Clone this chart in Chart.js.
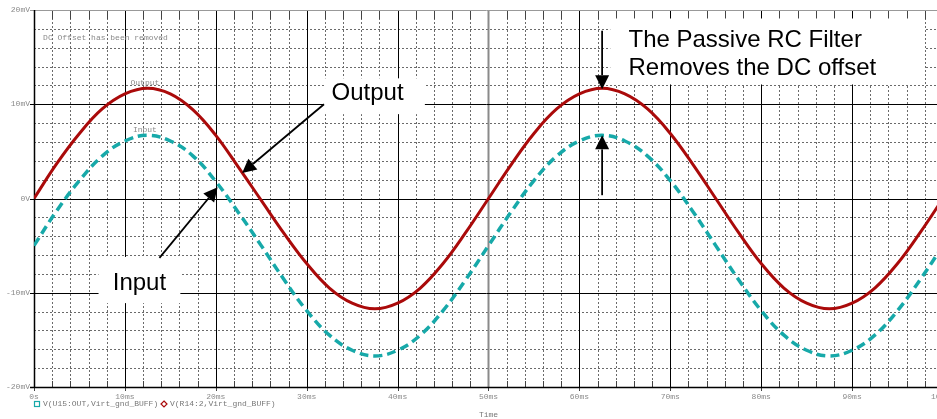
<!DOCTYPE html>
<html>
<head>
<meta charset="utf-8">
<script src="https://cdn.jsdelivr.net/npm/chart.js@4/dist/chart.umd.min.js"></script>
<style>
  html, body { margin: 0; padding: 0; background: #fff; overflow: hidden; }
  #wrap { width: 960px; height: 419px; }
</style>
</head>
<body>
<div id="wrap"><canvas id="simChart" width="960" height="419"></canvas></div>
<script>
// time axis (ms) and the two traces (mV)
var timeMs = [0, 2.5, 5, 7.5, 10, 12.5, 15, 17.5, 20, 22.5, 25, 27.5, 30, 32.5, 35, 37.5, 40, 42.5, 45, 47.5,
              50, 52.5, 55, 57.5, 60, 62.5, 65, 67.5, 70, 72.5, 75, 77.5, 80, 82.5, 85, 87.5, 90, 92.5, 95, 97.5, 100];
var outputMv = [0, 3.7, 6.9, 9.5, 11.1, 11.7, 11.1, 9.4, 6.7, 3.3, -0.2, -3.7, -6.9, -9.5, -11.1, -11.7, -11.1, -9.5, -6.9, -3.6,
                0, 3.6, 6.9, 9.5, 11.1, 11.7, 11.1, 9.5, 6.9, 3.6, 0, -3.6, -6.9, -9.5, -11.1, -11.7, -11.1, -9.5, -6.9, -3.6, 0];
var inputMv = [-5, -1.3, 1.9, 4.5, 6.1, 6.7, 6.1, 4.5, 1.8, -1.5, -5, -8.6, -11.9, -14.5, -16.1, -16.7, -16.1, -14.5, -11.9, -8.6,
               -5, -1.4, 1.9, 4.5, 6.1, 6.7, 6.1, 4.5, 1.9, -1.4, -5, -8.6, -11.9, -14.5, -16.1, -16.7, -16.1, -14.5, -11.9, -8.6, -5];
var xTicks = [0, 10, 20, 30, 40, 50, 60, 70, 80, 90, 100];
var yTicks = [-20, -10, 0, 10, 20];

var seriesNames = ['V(U15:OUT,Virt_gnd_BUFF)', 'V(R14:2,Virt_gnd_BUFF)'];
var inColor = '#17a9a9';
var outColor = '#aa0a0a';
var mono = "'Liberation Mono', 'DejaVu Sans Mono', monospace";
var sans = "'Liberation Sans', Arial, sans-serif";

function toPoints(ys) {
  return timeMs.map(function (t, i) { return { x: t, y: ys[i] }; });
}

// annotation boxes / arrows, placed in data units (ms, mV)
var callouts = [
  { box: [31.9, 43.0, 12.75, 8.95], text: ['Output'], at: [36.7, 11.2], arrows: [[31.9, 10, 22.9, 2.7]] },
  { box: [7.1, 16.1, -6.2, -11.1], text: ['Input'], at: [11.6, -9.0], arrows: [[13.8, -6.3, 20.2, 1.2]] },
  { box: [63.4, 98.0, 19.1, 12.1], text: ['The Passive RC Filter', 'Removes the DC offset'], at: [65.4, 16.75], left: true,
    arrows: [[62.5, 17.8, 62.5, 11.6], [62.5, 0.35, 62.5, 6.7]] }
];

var pspiceLook = {
  id: 'pspiceLook',
  beforeDraw: function (chart) {
    var c = chart.ctx;
    c.save();
    c.fillStyle = '#fff';
    c.fillRect(0, 0, chart.width, chart.height);
    c.restore();
  },
  beforeDatasetsDraw: function (chart) {
    var c = chart.ctx, xs = chart.scales.x, ys = chart.scales.y, a = chart.chartArea;
    c.save();
    c.lineWidth = 1;
    // minor grid
    c.strokeStyle = '#6a6a6a';
    c.setLineDash([2, 2]);
    for (var t = 0; t <= 100; t += 2) {
      if (t % 10 === 0) continue;
      var px = Math.round(xs.getPixelForValue(t)) + 0.5;
      c.beginPath(); c.moveTo(px, a.top); c.lineTo(px, a.bottom); c.stroke();
    }
    for (var v = -20; v <= 20; v += 2) {
      if (v % 10 === 0) continue;
      var py = Math.round(ys.getPixelForValue(v)) + 0.5;
      c.beginPath(); c.moveTo(a.left, py); c.lineTo(a.right, py); c.stroke();
    }
    c.setLineDash([]);
    // short solid ticks along top and bottom edges
    c.strokeStyle = '#444';
    for (var t2 = 0; t2 <= 100; t2 += 2) {
      var tx = Math.round(xs.getPixelForValue(t2)) + 0.5;
      c.beginPath(); c.moveTo(tx, a.top); c.lineTo(tx, a.top + 9); c.stroke();
      c.beginPath(); c.moveTo(tx, a.bottom - 6); c.lineTo(tx, a.bottom + (t2 % 10 === 0 ? 4 : 0)); c.stroke();
    }
    // major grid
    xTicks.forEach(function (t) {
      if (t === 0 || t === 100) return;
      var px = Math.round(xs.getPixelForValue(t)) + 0.5;
      c.strokeStyle = t === 50 ? '#8a8a8a' : '#000';
      c.lineWidth = t === 50 ? 2 : 1;
      c.beginPath(); c.moveTo(px, a.top); c.lineTo(px, a.bottom); c.stroke();
    });
    c.lineWidth = 1;
    yTicks.forEach(function (v) {
      var py = Math.round(ys.getPixelForValue(v)) + 0.5;
      c.strokeStyle = v === 20 ? '#999' : '#000';
      c.lineWidth = v === -20 ? 1.5 : 1;
      c.beginPath(); c.moveTo(a.left - 4, py); c.lineTo(a.right, py); c.stroke();
    });
    c.strokeStyle = '#000';
    c.lineWidth = 1.5;
    var lx = Math.round(a.left) + 0.5;
    c.beginPath(); c.moveTo(lx, a.top); c.lineTo(lx, a.bottom); c.stroke();
    // white label boxes over the grid
    c.fillStyle = '#fff';
    callouts.forEach(function (k) {
      var x0 = xs.getPixelForValue(k.box[0]), x1 = xs.getPixelForValue(k.box[1]);
      var y0 = ys.getPixelForValue(k.box[2]), y1 = ys.getPixelForValue(k.box[3]);
      c.fillRect(x0, y0, x1 - x0, y1 - y0);
    });
    // small probe labels
    c.fillStyle = '#8a8a8a';
    c.font = '8px ' + mono;
    c.textBaseline = 'middle';
    c.textAlign = 'left';
    c.fillText('DC Offset has been removed', xs.getPixelForValue(1.0), ys.getPixelForValue(17.0));
    c.textAlign = 'center';
    c.fillText('Output', xs.getPixelForValue(12.2), ys.getPixelForValue(12.3));
    c.fillText('Input', xs.getPixelForValue(12.2), ys.getPixelForValue(7.3));
    c.restore();
  },
  afterDatasetsDraw: function (chart) {
    var c = chart.ctx, xs = chart.scales.x, ys = chart.scales.y, a = chart.chartArea;
    c.save();
    // callout text and arrows
    c.fillStyle = '#000';
    c.strokeStyle = '#000';
    c.font = '24px ' + sans;
    c.textBaseline = 'middle';
    callouts.forEach(function (k) {
      c.textAlign = k.left ? 'left' : 'center';
      var tx = xs.getPixelForValue(k.at[0]), ty = ys.getPixelForValue(k.at[1]);
      k.text.forEach(function (line, i) { c.fillText(line, tx, ty + i * 28); });
      k.arrows.forEach(function (ar) {
        var x0 = xs.getPixelForValue(ar[0]), y0 = ys.getPixelForValue(ar[1]);
        var x1 = xs.getPixelForValue(ar[2]), y1 = ys.getPixelForValue(ar[3]);
        var ang = Math.atan2(y1 - y0, x1 - x0), L = 14, W = 7;
        var bx = x1 - L * Math.cos(ang), by = y1 - L * Math.sin(ang);
        c.lineWidth = 1.8;
        c.beginPath(); c.moveTo(x0, y0); c.lineTo(bx, by); c.stroke();
        c.beginPath();
        c.moveTo(x1, y1);
        c.lineTo(bx + W * Math.sin(ang), by - W * Math.cos(ang));
        c.lineTo(bx - W * Math.sin(ang), by + W * Math.cos(ang));
        c.closePath(); c.fill();
      });
    });
    // legend line under the axis
    var ly = 404;
    c.font = '8px ' + mono;
    c.textAlign = 'left';
    c.fillStyle = '#777';
    c.lineWidth = 1.2;
    c.strokeStyle = inColor;
    c.strokeRect(34.5, ly - 2.5, 5, 5);
    c.fillText(seriesNames[0], 43, ly);
    var dx = 164;
    c.strokeStyle = outColor;
    c.beginPath();
    c.moveTo(dx, ly - 3); c.lineTo(dx + 3, ly); c.lineTo(dx, ly + 3); c.lineTo(dx - 3, ly); c.closePath();
    c.stroke();
    c.fillText(seriesNames[1], 170, ly);
    c.textAlign = 'center';
    c.fillText('Time', (a.left + a.right) / 2, 415);
    c.restore();
  }
};

new Chart(document.getElementById('simChart').getContext('2d'), {
  type: 'line',
  data: {
    datasets: [
      {
        label: seriesNames[0],
        data: toPoints(inputMv),
        borderColor: inColor,
        borderWidth: 3.5,
        borderDash: [9, 5],
        pointRadius: 0,
        tension: 0.4,
        fill: false
      },
      {
        label: seriesNames[1],
        data: toPoints(outputMv),
        borderColor: outColor,
        borderWidth: 3,
        pointRadius: 0,
        tension: 0.4,
        fill: false
      }
    ]
  },
  options: {
    responsive: false,
    animation: false,
    layout: { padding: { left: 0, right: 15.5, top: 10, bottom: 0 } },
    plugins: { legend: { display: false }, tooltip: { enabled: false } },
    scales: {
      x: {
        type: 'linear',
        min: 0,
        max: 100,
        afterBuildTicks: function (s) { s.ticks = xTicks.map(function (v) { return { value: v }; }); },
        afterFit: function (s) { s.height = 32; },
        grid: { display: false, drawTicks: false },
        border: { display: false },
        ticks: {
          autoSkip: false,
          maxRotation: 0,
          padding: 5,
          color: '#8a8a8a',
          font: { family: mono, size: 8 },
          callback: function (v) { return v === 0 ? '0s' : v + 'ms'; }
        }
      },
      y: {
        type: 'linear',
        min: -20,
        max: 20,
        afterBuildTicks: function (s) { s.ticks = yTicks.map(function (v) { return { value: v }; }); },
        afterFit: function (s) { s.width = 34; },
        grid: { display: false, drawTicks: false },
        border: { display: false },
        ticks: {
          padding: 4,
          color: '#8a8a8a',
          font: { family: mono, size: 8 },
          callback: function (v) { return v === 0 ? '0V' : v + 'mV'; }
        }
      }
    }
  },
  plugins: [pspiceLook]
});
</script>
</body>
</html>
